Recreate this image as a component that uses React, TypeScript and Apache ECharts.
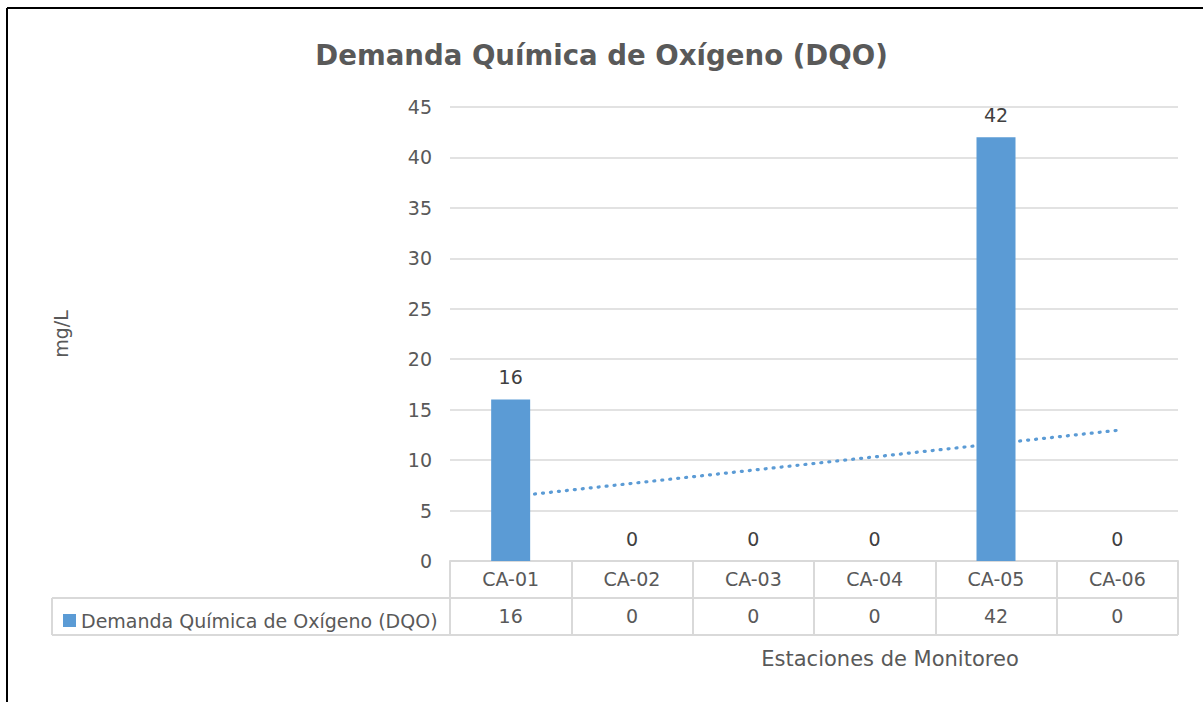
import React, { useEffect, useRef } from "react";
import * as echarts from "echarts";

const title = "Demanda Química de Oxígeno (DQO)";
const seriesName = "Demanda Química de Oxígeno (DQO)";
const categories = ["CA-01", "CA-02", "CA-03", "CA-04", "CA-05", "CA-06"];
const dqo = [16, 0, 0, 0, 42, 0];
// linear trendline endpoints (at CA-01 and CA-06)
const trendStart = 6.38;
const trendEnd = 12.95;
const yTicks = { min: 0, max: 45, interval: 5 };
const yName = "mg/L";
const xName = "Estaciones de Monitoreo";

const FONT = "'DejaVu Sans', sans-serif";
const TXT = "#595959";
const GRID = "#d9d9d9";
const BLUE = "#5b9bd5";
const FS = 19;

export default function App() {
  const ref = useRef<HTMLDivElement>(null);
  useEffect(() => {
    if (!ref.current) return;
    const chart = echarts.init(ref.current, null, { renderer: "svg" });
    const L = 450, R = 1178, TOP = 107, BOT = 561, ROW = 37;
    chart.setOption({
      animation: false,
      textStyle: { fontFamily: FONT },
      title: {
        text: title,
        left: "center",
        top: 36,
        textStyle: { fontFamily: FONT, fontSize: 27.6, fontWeight: "bold", color: TXT },
      },
      legend: {
        data: [seriesName],
        left: 58,
        top: 606,
        icon: "rect",
        itemWidth: 13,
        itemHeight: 13,
        itemGap: 4,
        textStyle: { fontFamily: FONT, fontSize: FS, color: TXT },
      },
      grid: { left: L, right: 1203 - R, top: TOP, bottom: 702 - BOT, containLabel: false },
      xAxis: [
        {
          type: "category",
          data: categories,
          axisLine: { show: true, lineStyle: { color: GRID, width: 2 } },
          axisTick: { show: true, length: ROW * 2, alignWithLabel: false, interval: 0, lineStyle: { color: GRID, width: 2 } },
          axisLabel: { fontFamily: FONT, fontSize: FS, color: TXT, margin: 8, interval: 0 },
        },
        {
          type: "category",
          data: dqo.map(String),
          position: "bottom",
          offset: ROW,
          axisLine: { show: false },
          axisTick: { show: false },
          axisLabel: { fontFamily: FONT, fontSize: FS, color: TXT, margin: 8, interval: 0 },
        },
      ],
      yAxis: {
        type: "value",
        min: yTicks.min,
        max: yTicks.max,
        interval: yTicks.interval,
        name: yName,
        nameLocation: "middle",
        nameRotate: 90,
        nameGap: 380,
        nameTextStyle: { fontFamily: FONT, fontSize: FS, color: TXT },
        axisLine: { show: false },
        axisTick: { show: false },
        splitLine: { lineStyle: { color: GRID, width: 1.5 } },
        axisLabel: { fontFamily: FONT, fontSize: FS, color: TXT, margin: 18 },
      },
      series: [
        {
          type: "line",
          name: "trend",
          xAxisIndex: 0,
          data: [
            [categories[0], trendStart],
            [categories[categories.length - 1], trendEnd],
          ],
          symbol: "none",
          silent: true,
          z: 1,
          lineStyle: { color: BLUE, width: 3.2, type: [1, 7], cap: "round" },
        },
        {
          type: "bar",
          name: seriesName,
          xAxisIndex: 0,
          data: dqo,
          barWidth: 39,
          z: 3,
          itemStyle: { color: BLUE },
          label: { show: true, position: "top", distance: 13, fontFamily: FONT, fontSize: FS, color: "#404040" },
        },
      ],
      graphic: [
        { type: "line", shape: { x1: 7, y1: 8, x2: 1203, y2: 8 }, style: { stroke: "#000", lineWidth: 2 } },
        { type: "line", shape: { x1: 7, y1: 8, x2: 7, y2: 702 }, style: { stroke: "#000", lineWidth: 2 } },
        { type: "line", shape: { x1: 52, y1: BOT + ROW, x2: R, y2: BOT + ROW }, style: { stroke: GRID, lineWidth: 2 } },
        { type: "line", shape: { x1: 52, y1: BOT + ROW * 2, x2: R, y2: BOT + ROW * 2 }, style: { stroke: GRID, lineWidth: 2 } },
        { type: "line", shape: { x1: 52, y1: BOT + ROW, x2: 52, y2: BOT + ROW * 2 }, style: { stroke: GRID, lineWidth: 2 } },
        {
          type: "text",
          x: 890,
          y: 659,
          style: { text: xName, fontFamily: FONT, fontSize: 21, fill: TXT, align: "center", verticalAlign: "middle" },
        },
      ],
    });
    return () => chart.dispose();
  }, []);
  return <div ref={ref} style={{ position: "fixed", left: 0, top: 0, width: 1203, height: 702, background: "#fff" }} />;
}
